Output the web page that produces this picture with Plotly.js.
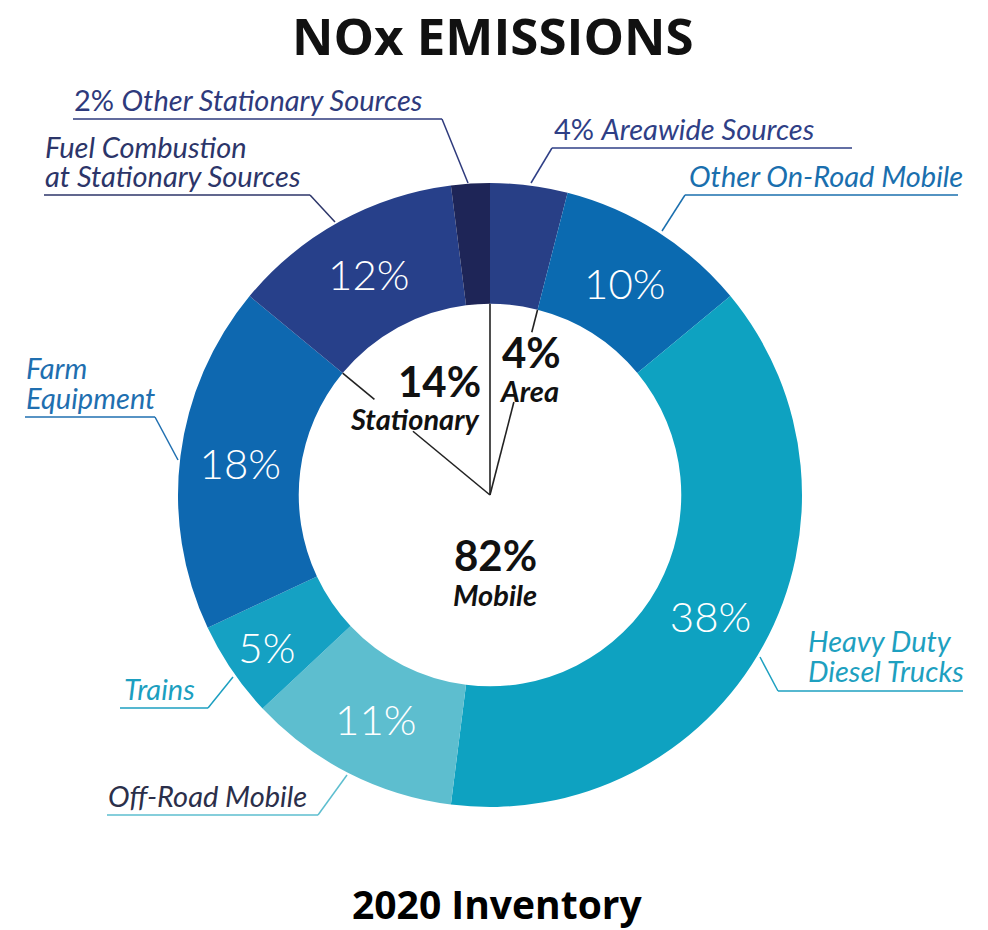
<!DOCTYPE html>
<html>
<head>
<meta charset="utf-8">
<script src="https://cdn.plot.ly/plotly-3.0.1.min.js"></script>
<style>html,body{margin:0;padding:0;background:#fff;}#chart{width:988px;height:930px;}</style>
</head>
<body>
<div id="chart"></div>
<script>
// ---- data ----
const categories = ["Areawide Sources", "Other On-Road Mobile", "Heavy Duty Diesel Trucks", "Off-Road Mobile", "Trains", "Farm Equipment", "Fuel Combustion at Stationary Sources", "Other Stationary Sources"];
const values = [4, 10, 38, 11, 5, 18, 12, 2];
const groups = ["Area", "Mobile", "Mobile", "Mobile", "Mobile", "Mobile", "Stationary", "Stationary"];
const sliceColors = ["#283f86", "#0b6ab0", "#0ea2c1", "#5dbecf", "#15a1c3", "#0e68b0", "#27408a", "#1e2557"];

// ---- geometry (pixels) ----
const W = 988, H = 930;
const CX = 490, CY = 495, R = 312, HOLE = 0.613;
const r = R * HOLE;
const px = x => x / W;
const py = y => 1 - y / H;

const total = values.reduce((a, b) => a + b, 0);
const sliceText = values.map(v => v >= 5 ? v + "%" : "");

const trace = {
  type: "pie",
  values: values,
  labels: categories,
  text: sliceText,
  textinfo: "text",
  textposition: "inside",
  insidetextorientation: "horizontal",
  insidetextfont: {family: "Lato, 'Open Sans', sans-serif", size: 42, color: "#ffffff", weight: 300},
  sort: false,
  direction: "clockwise",
  rotation: 0,
  hole: HOLE,
  marker: {colors: sliceColors, line: {width: 0}},
  domain: {x: [px(CX - R), px(CX + R)], y: [py(CY + R), py(CY - R)]},
  hoverinfo: "none"
};

// ---- group percentages ----
function groupSum(g) { return values.reduce((s, v, i) => s + (groups[i] === g ? v : 0), 0); }
const areaPct = groupSum("Area"), statPct = groupSum("Stationary"), mobPct = groupSum("Mobile");

function pointAt(frac, rad) {
  const a = 2 * Math.PI * frac;
  return [CX + rad * Math.sin(a), CY - rad * Math.cos(a)];
}
const areaEnd = areaPct / total;
const statStart = 1 - statPct / total;

const shapes = [];
function seg(p1, p2, color, w) {
  shapes.push({type: "line", xref: "paper", yref: "paper",
    x0: px(p1[0]), y0: py(p1[1]), x1: px(p2[0]), y1: py(p2[1]),
    line: {color: color, width: w || 1.3}});
}
seg(pointAt(0, 0), pointAt(0, r), "#222", 1.6);
seg(pointAt(statStart, 0), pointAt(statStart, 100), "#222", 1.6);
seg(pointAt(statStart, 150), pointAt(statStart, r), "#222", 1.6);
seg(pointAt(areaEnd, 0), pointAt(areaEnd, 96), "#222", 1.6);
seg(pointAt(areaEnd, 168), pointAt(areaEnd, r), "#222", 1.6);

// ---- callout labels ----
const callouts = [
  {lines: [values[7] + "% <i>Other Stationary Sources</i>"], x: 73, y: 99, col: "#2e3a7c", lc: "#2e3a7c",
   line: [[73, 119], [442, 119], [468, 183]]},
  {lines: ["<i>Fuel Combustion</i>", "<i>at Stationary Sources</i>"], x: 44, y: 146, col: "#2c3569", lc: "#2c3569",
   line: [[44, 195], [310, 195], [335, 222]]},
  {lines: [values[0] + "% <i>Areawide Sources</i>"], x: 553, y: 128, col: "#2f3f86", lc: "#2f3f86",
   line: [[852, 148], [552, 148], [531, 183]]},
  {lines: ["<i>Other On-Road Mobile</i>"], x: 688, y: 175, col: "#1a6fae", lc: "#1a6fae",
   line: [[958, 195], [685, 195], [662, 231]]},
  {lines: ["<i>Farm</i>", "<i>Equipment</i>"], x: 25, y: 367, col: "#1f6fb0", lc: "#1f6fb0",
   line: [[25, 417], [155, 417], [178, 460]]},
  {lines: ["<i>Trains</i>"], x: 123, y: 688, col: "#1c9fc0", lc: "#1c9fc0",
   line: [[120, 708], [208, 708], [233, 677]]},
  {lines: ["<i>Off-Road Mobile</i>"], x: 107, y: 795, col: "#2b2f4a", lc: "#5dbecf",
   line: [[107, 815], [318, 815], [347, 775]]},
  {lines: ["<i>Heavy Duty</i>", "<i>Diesel Trucks</i>"], x: 807, y: 640, col: "#1ea0c0", lc: "#1ea0c0",
   line: [[963, 691], [778, 691], [760, 657]]}
];

const annotations = [];
callouts.forEach(c => {
  c.lines.forEach((t, k) => {
    annotations.push({xref: "paper", yref: "paper", x: px(c.x), y: py(c.y + k * 30), xanchor: "left", yanchor: "middle",
      text: t, showarrow: false, align: "left", borderpad: 0,
      font: {family: "Lato, 'Open Sans', sans-serif", size: 29, color: c.col}});
  });
  for (let i = 0; i < c.line.length - 1; i++) seg(c.line[i], c.line[i + 1], c.lc, 1.5);
});

function centerLabel(t, x, y, size, italic) {
  annotations.push({xref: "paper", yref: "paper", x: px(x), y: py(y), xanchor: "center", yanchor: "middle",
    text: italic ? "<i>" + t + "</i>" : t, showarrow: false, borderpad: 0,
    font: {family: "Lato, 'Open Sans', sans-serif", size: size, color: "#111111", weight: 700}});
}
centerLabel(statPct + "%", 439, 381, 42, false);
centerLabel("Stationary", 414, 418, 29, true);
centerLabel(areaPct + "%", 531, 352, 42, false);
centerLabel("Area", 529, 390, 29, true);
centerLabel(mobPct + "%", 495, 555, 42, false);
centerLabel("Mobile", 495, 594, 29, true);

// titles
annotations.push({xref: "paper", yref: "paper", x: px(493), y: py(35), xanchor: "center", yanchor: "middle",
  text: "<b>NOx EMISSIONS</b>", showarrow: false, borderpad: 0,
  font: {family: "'Open Sans', Lato, sans-serif", size: 51, color: "#111111"}});
annotations.push({xref: "paper", yref: "paper", x: px(497), y: py(903), xanchor: "center", yanchor: "middle",
  text: "<b>2020 Inventory</b>", showarrow: false, borderpad: 0,
  font: {family: "'Open Sans', Lato, sans-serif", size: 39, color: "#000000"}});

const layout = {
  width: W, height: H,
  margin: {l: 0, r: 0, t: 0, b: 0},
  paper_bgcolor: "#ffffff",
  showlegend: false,
  hovermode: false,
  shapes: shapes,
  annotations: annotations
};

Plotly.newPlot("chart", [trace], layout, {staticPlot: true, displayModeBar: false});
</script>
</body>
</html>
